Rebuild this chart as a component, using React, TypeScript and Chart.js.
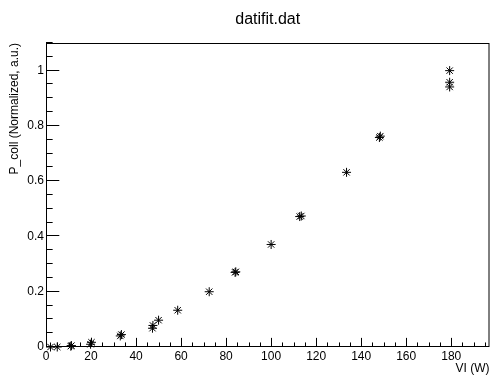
import React, { useEffect, useRef } from 'react';
import { Chart, registerables } from 'chart.js';

Chart.register(...registerables);

const xValues = [2, 5, 11, 11.3, 19.8, 20.2, 33, 33.5, 47.3, 47.5, 50, 58.5, 72.5, 84, 84.3, 100, 112.7, 113.4, 133.5, 148.1, 148.5, 179.3, 179.3, 179.3];
const yValues = [0, 0, 0.003, 0.005, 0.01, 0.017, 0.04, 0.045, 0.068, 0.078, 0.097, 0.133, 0.2, 0.27, 0.272, 0.371, 0.472, 0.474, 0.632, 0.758, 0.763, 1.0, 0.958, 0.941];

const xMajorTicks = [0, 20, 40, 60, 80, 100, 120, 140, 160, 180];
const xTickLabels = ['0', '20', '40', '60', '80', '100', '120', '140', '160', '180'];
const yMajorTicks = [0, 0.2, 0.4, 0.6, 0.8, 1.0];
const yTickLabels = ['0', '0.2', '0.4', '0.6', '0.8', '1'];

const X_MIN = 0;
const X_MAX = 197;
const Y_MIN = 0;
const Y_MAX = 1.1;
const X_MINOR_STEP = 5;
const Y_MINOR_STEP = 0.05;

const FONT = "'Liberation Sans', Arial, Helvetica, sans-serif";

const rootFrame = {
  id: 'rootFrame',
  afterDraw(chart: any) {
    const { ctx, chartArea: a, scales } = chart;
    const x = scales.x;
    const y = scales.y;
    ctx.save();
    ctx.strokeStyle = '#000';
    ctx.lineWidth = 1;
    ctx.strokeRect(a.left + 0.5, a.top + 0.5, a.right - a.left - 1, a.bottom - a.top - 1);
    const xLen = (a.bottom - a.top) * 0.03;
    const yLen = (a.right - a.left) * 0.03;
    ctx.beginPath();
    for (let i = 0; i * X_MINOR_STEP <= X_MAX + 1e-9; i++) {
      const v = i * X_MINOR_STEP;
      const px = Math.round(x.getPixelForValue(v)) + 0.5;
      const len = i % 4 === 0 ? xLen : xLen / 2;
      ctx.moveTo(px, a.bottom);
      ctx.lineTo(px, a.bottom - len);
    }
    for (let i = 0; i * Y_MINOR_STEP <= Y_MAX + 1e-9; i++) {
      const v = i * Y_MINOR_STEP;
      const py = Math.round(y.getPixelForValue(v)) - 0.5;
      const len = i % 4 === 0 ? yLen : yLen / 2;
      ctx.moveTo(a.left, py);
      ctx.lineTo(a.left + len, py);
    }
    ctx.stroke();
    ctx.restore();
  },
};

export default function App() {
  const ref = useRef<HTMLCanvasElement>(null);

  useEffect(() => {
    if (!ref.current) return;
    const chart = new Chart(ref.current, {
      type: 'scatter',
      data: {
        datasets: [
          {
            data: xValues.map((v, i) => ({ x: v, y: yValues[i] })),
            pointStyle: 'star',
            pointRadius: 4.5,
            pointBorderWidth: 1,
            borderColor: '#000',
            backgroundColor: '#000',
            clip: false as any,
          },
        ],
      },
      options: {
        responsive: false,
        animation: false,
        layout: { padding: { top: 0, right: 2, bottom: 0, left: 0 } },
        plugins: {
          legend: { display: false },
          tooltip: { enabled: false },
          title: {
            display: true,
            text: 'datifit.dat',
            fullSize: false,
            color: '#000',
            font: { family: FONT, size: 16, weight: 'normal' as any, lineHeight: 1.2 },
            padding: { top: 10, bottom: 13.8 },
          },
        },
        scales: {
          x: {
            type: 'linear',
            min: X_MIN,
            max: X_MAX,
            grid: { display: false, drawTicks: false },
            border: { display: false },
            afterBuildTicks: (s: any) => {
              s.ticks = xMajorTicks.map((v) => ({ value: v }));
            },
            afterFit: (s: any) => {
              s.height = 30;
            },
            ticks: {
              autoSkip: false,
              maxRotation: 0,
              padding: 2,
              color: '#000',
              font: { family: FONT, size: 12 },
              callback: (_v: any, i: number) => xTickLabels[i],
            },
            title: {
              display: true,
              text: 'VI (W)',
              align: 'end',
              color: '#000',
              font: { family: FONT, size: 12 },
              padding: { top: 0, bottom: 1 },
            },
          },
          y: {
            type: 'linear',
            min: Y_MIN,
            max: Y_MAX,
            grid: { display: false, drawTicks: false },
            border: { display: false },
            afterBuildTicks: (s: any) => {
              s.ticks = yMajorTicks.map((v) => ({ value: v }));
            },
            afterFit: (s: any) => {
              s.width = 46;
            },
            ticks: {
              autoSkip: false,
              padding: 2,
              color: '#000',
              font: { family: FONT, size: 12 },
              callback: (_v: any, i: number) => yTickLabels[i],
            },
            title: {
              display: true,
              text: 'P_coll (Normalized, a.u.)',
              align: 'end',
              color: '#000',
              font: { family: FONT, size: 12 },
              padding: { top: 7, bottom: 0 },
            },
          },
        },
      },
      plugins: [rootFrame],
    });
    return () => chart.destroy();
  }, []);

  return (
    <div style={{ position: 'fixed', left: 0, top: 0, width: 495, height: 377, background: '#fff' }}>
      <canvas ref={ref} width={495} height={377} />
    </div>
  );
}
